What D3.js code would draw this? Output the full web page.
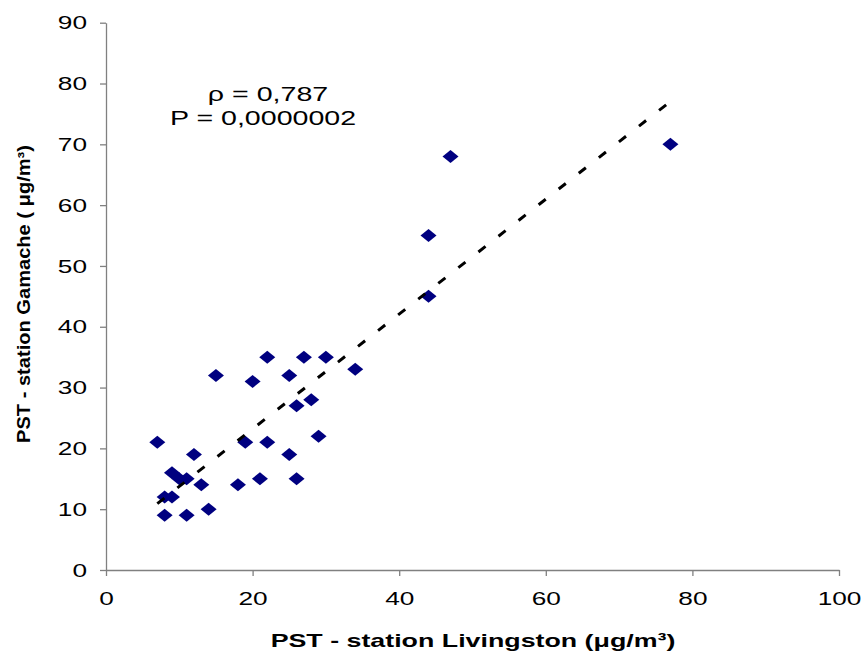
<!DOCTYPE html>
<html>
<head>
<meta charset="utf-8">
<script src="https://cdn.jsdelivr.net/npm/d3@7"></script>
<style>
  body { margin: 0; background: #fff; }
  text { font-family: "Liberation Sans", Arial, sans-serif; fill: #000; }
</style>
</head>
<body>
<div id="chart"></div>
<script>
// PST values, station Livingston (x) vs station Gamache (y), in ug/m3
const livingston = [7, 8, 8, 9, 9, 10, 11, 11, 12, 13, 14, 15, 18, 19, 20, 21, 22, 22, 25, 25, 26, 26, 27, 28, 29, 30, 34, 44, 44, 47, 77]
const gamache = [21, 12, 9, 16, 12, 15, 15, 9, 19, 14, 10, 32, 14, 21, 31, 15, 35, 21, 32, 19, 27, 15, 35, 28, 22, 35, 33, 55, 45, 68, 70]
const xTicks = [0, 20, 40, 60, 80, 100]
const yTicks = [0, 10, 20, 30, 40, 50, 60, 70, 80, 90]
const statLines = ["ρ = 0,787", "P = 0,0000002"]
const xTitle = "PST - station Livingston (μg/m³)"
const yTitle = "PST - station Gamache ( μg/m³)"

const width = 863
const height = 651
const plotLeft = 106, plotRight = 839, plotTop = 22.7, plotBottom = 570
const stretch = 1.38
const axisColor = "#808080"
const markerColor = "#000080"

const svg = d3.select("#chart")
	.append("svg")
	.attr("width", width)
	.attr("height", height)

const x = d3.scaleLinear().domain([0, 100]).range([plotLeft, plotRight])
const y = d3.scaleLinear().domain([0, 90]).range([plotBottom, plotTop])

// axes
const gx = svg.append("g")
	.attr("transform", "translate(0," + plotBottom + ")")
	.call(d3.axisBottom(x).tickValues(xTicks).tickSize(6).tickSizeOuter(0))
gx.selectAll("text")
	.attr("y", 22)
	.attr("font-size", 19)
	.attr("transform", "scale(" + stretch + ",1)")

const gy = svg.append("g")
	.attr("transform", "translate(" + plotLeft + ",0)")
	.call(d3.axisLeft(y).tickValues(yTicks).tickSize(6).tickSizeOuter(0))
gy.selectAll("text")
	.attr("x", -19 / stretch)
	.attr("font-size", 19)
	.attr("transform", "scale(" + stretch + ",1)")

svg.selectAll(".domain, .tick line")
	.attr("stroke", axisColor)
	.attr("stroke-width", 1.3)

// points
const pts = livingston.map((v, i) => ({ x: v, y: gamache[i] }))
svg.append("g")
	.selectAll("path")
	.data(pts)
	.enter()
	.append("path")
	.attr("d", "M0,-6.5L8,0L0,6.5L-8,0Z")
	.attr("transform", d => "translate(" + x(d.x) + "," + y(d.y) + ")")
	.attr("fill", markerColor)

// linear trend (least squares) over the data range
const mx = d3.mean(livingston)
const my = d3.mean(gamache)
const sxy = d3.sum(pts, d => (d.x - mx) * (d.y - my))
const sxx = d3.sum(pts, d => (d.x - mx) * (d.x - mx))
const slope = sxy / sxx
const icpt = my - slope * mx
const trend = d3.extent(livingston).map(v => ({ x: v, y: icpt + slope * v }))

svg.append("path")
	.datum(trend)
	.attr("d", d3.line().x(d => x(d.x)).y(d => y(d.y)))
	.attr("fill", "none")
	.attr("stroke", "#000")
	.attr("stroke-width", 3)
	.attr("stroke-dasharray", "9,16.5")

// correlation text
svg.append("g")
	.selectAll("text")
	.data(statLines)
	.enter()
	.append("text")
	.attr("transform", (d, i) => "translate(" + (268 - i * 5) + "," + (101 + i * 24) + ") scale(1.43,1)")
	.attr("text-anchor", "middle")
	.attr("font-size", 20)
	.text(d => d)

// axis titles
svg.append("text")
	.attr("transform", "translate(473,647) scale(1.41,1)")
	.attr("text-anchor", "middle")
	.attr("font-size", 19)
	.attr("font-weight", "bold")
	.text(xTitle)

svg.append("text")
	.attr("transform", "translate(29.5,294) rotate(-90)")
	.attr("text-anchor", "middle")
	.attr("font-size", 18)
	.attr("font-weight", "bold")
	.attr("textLength", 298)
	.attr("lengthAdjust", "spacingAndGlyphs")
	.text(yTitle)
</script>
</body>
</html>
